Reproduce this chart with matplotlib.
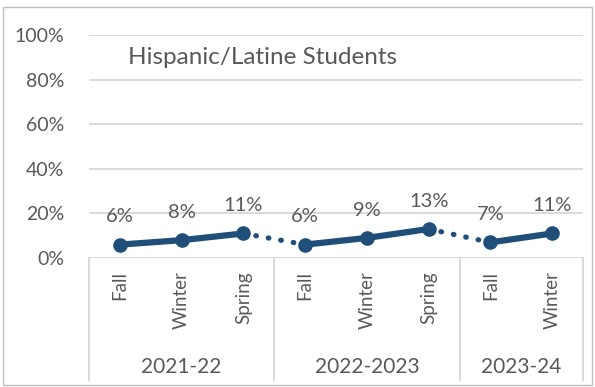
import matplotlib.pyplot as plt
from matplotlib.patches import Rectangle

seasons = ["Fall", "Winter", "Spring", "Fall", "Winter", "Spring", "Fall", "Winter"]
years = ["2021-22", "2022-2023", "2023-24"]
year_sizes = [3, 3, 2]
values = [6, 8, 11, 6, 9, 13, 7, 11]
title = "Hispanic/Latine Students"

navy = "#1F4E79"
grey_txt = "#595959"
grid_c = "#D9D9D9"

plt.rcParams['font.family'] = ['Lato', 'DejaVu Sans']

W, H = 595, 387
fig = plt.figure(figsize=(W / 100, H / 100), dpi=100)
fig.patches.append(Rectangle((3 / W, 2 / H), 589 / W, 378 / H, transform=fig.transFigure,
                             fill=False, edgecolor="#BFBFBF", linewidth=1))

ax = fig.add_axes([89 / W, (H - 258) / H, (583 - 89) / W, (258 - 35) / H])
ax.set_xlim(-0.5, len(values) - 0.5)
ax.set_ylim(0, 100)
ax.set_yticks(range(0, 101, 20))
ax.set_yticklabels([f"{v}%" for v in range(0, 101, 20)], fontsize=14, color=grey_txt)
ax.tick_params(axis='y', length=0, pad=18)
ax.set_xticks([])
for s in ax.spines.values():
    s.set_visible(False)
for v in range(0, 101, 20):
    ax.axhline(v, color=grid_c, lw=1.4, zorder=0)

# lines: solid within a year, dotted between years
x = list(range(len(values)))
start = 0
bounds = []
for n in year_sizes:
    xs = x[start:start + n]
    ax.plot(xs, values[start:start + n], color=navy, lw=4.5, solid_capstyle='round', zorder=3)
    bounds.append((start, start + n))
    start += n
for (a, b), (c, d) in zip(bounds[:-1], bounds[1:]):
    ax.plot([b - 1, c], [values[b - 1], values[c]], color=navy, lw=3.8,
            linestyle=(0, (0.1, 2.3)), dash_capstyle='round', zorder=3)
ax.plot(x, values, linestyle='none', marker='o', markersize=9.5, color=navy, zorder=4)

for xi, v in zip(x, values):
    ax.annotate(f"{v}%", (xi, v), xytext=(0, 20), textcoords='offset points',
                ha='center', va='center', fontsize=14.5, color=grey_txt)

ax.text(0.079, 0.9, title, transform=ax.transAxes,
        fontsize=17.5, color=grey_txt, ha='left', va='center')

# hierarchical category axis
trans = ax.get_xaxis_transform()
y_bottom = -(380 - 258) / (258 - 35)
edges = [-0.5]
for n in year_sizes:
    edges.append(edges[-1] + n)
for e in edges:
    ax.plot([e, e], [0, y_bottom], transform=trans, color=grid_c, lw=1.4, clip_on=False)
for xi, s in zip(x, seasons):
    ax.text(xi, -(271 - 258) / (258 - 35), s, transform=trans, rotation=90,
            ha='center', va='top', fontsize=13.5, color=grey_txt)
for i, yr in enumerate(years):
    mid = (edges[i] + edges[i + 1]) / 2
    ax.text(mid, -(367 - 258) / (258 - 35), yr, transform=trans,
            ha='center', va='center', fontsize=15, color=grey_txt)

fig.savefig("out.png", dpi=100)
